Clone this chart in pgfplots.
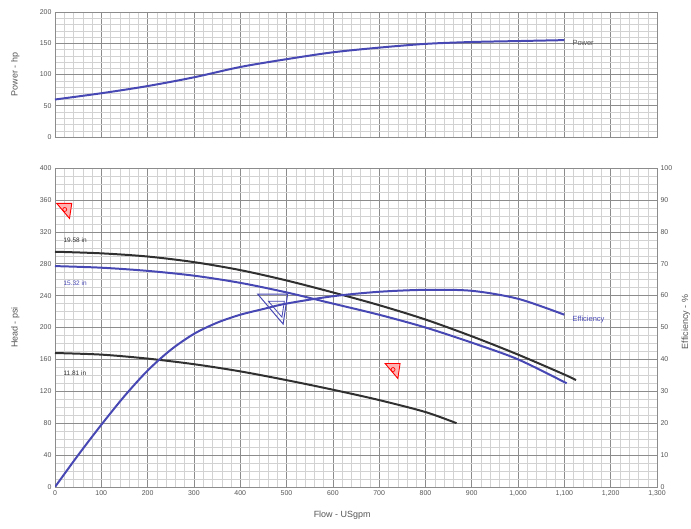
\documentclass[border=0pt]{standalone}
\usepackage{fontspec}
\setmainfont{Liberation Sans}
\usepackage{pgfplots}
\pgfplotsset{compat=1.18}

\definecolor{cblue}{HTML}{4848B4}
\definecolor{cblack}{HTML}{303030}
\definecolor{majgrid}{HTML}{8C8C8C}
\definecolor{mingrid}{HTML}{D2D2D2}
\definecolor{tickc}{HTML}{555555}

\pgfdeclareplotmark{dtri}{%
  \pgfpathmoveto{\pgfqpoint{-\pgfplotmarksize}{0.7\pgfplotmarksize}}%
  \pgfpathlineto{\pgfqpoint{\pgfplotmarksize}{0.7\pgfplotmarksize}}%
  \pgfpathlineto{\pgfqpoint{0.7\pgfplotmarksize}{-1.3\pgfplotmarksize}}%
  \pgfpathclose
  \pgfusepathqfillstroke}
\pgfdeclareplotmark{dtrio}{%
  \pgfpathmoveto{\pgfqpoint{-\pgfplotmarksize}{0.7\pgfplotmarksize}}%
  \pgfpathlineto{\pgfqpoint{\pgfplotmarksize}{0.7\pgfplotmarksize}}%
  \pgfpathlineto{\pgfqpoint{0.7\pgfplotmarksize}{-1.3\pgfplotmarksize}}%
  \pgfpathclose
  \pgfusepathqstroke}

\pgfplotsset{
  base/.style={
    scale only axis, width=602bp, xmin=0, xmax=1300,
    xtick={0,100,...,1300}, minor x tick num=4,
    grid=both,
    major grid style={majgrid, line width=0.6pt},
    minor grid style={mingrid, line width=0.35pt},
    axis line style={majgrid, line width=0.8pt},
    tick style={draw=none},
    ticklabel style={font=\fontsize{7}{8}\selectfont, text=tickc},
    label style={font=\fontsize{9}{10}\selectfont, text=tickc},
    /pgf/number format/assume math mode=true,
    /pgf/number format/1000 sep={,},
  }
}

\begin{document}
\begin{tikzpicture}
\useasboundingbox (-55bp,-42bp) rectangle (636bp,487bp);

% ---------- top: power ----------
\begin{axis}[base, at={(0,350bp)}, anchor=south west, height=125bp,
  ymin=0, ymax=200, ytick={0,50,...,200}, minor y tick num=4,
  xticklabels={},
  ylabel={Power - hp},
  ylabel style={at={(axis description cs:-0.066,0.5)}, anchor=center}]
\addplot[cblue, line width=2pt, smooth] coordinates {
 (0,60) (100,70) (200,81.5) (300,95.5) (400,112) (500,124.5) (600,135.5)
 (700,143) (800,149) (900,152) (1000,153.5) (1100,155)};
\node[anchor=west, font=\fontsize{7.5}{8}\selectfont, text=tickc] at (axis cs:1110,151) {Power};
\end{axis}

% ---------- bottom: head ----------
\begin{axis}[base, at={(0,0)}, anchor=south west, height=319bp,
  ymin=0, ymax=400, ytick={0,40,...,400}, minor y tick num=3,
  xlabel={Flow - USgpm}, ylabel={Head - psi},
  xlabel style={at={(axis description cs:0.477,-0.088)}, anchor=center},
  ylabel style={at={(axis description cs:-0.066,0.5)}, anchor=center}]
% 19.58 in
\addplot[cblack, line width=2pt, smooth] coordinates {
 (0,295) (100,293) (200,289) (300,282) (400,272) (500,259) (600,244)
 (700,228) (800,210) (900,189) (1000,166) (1100,141) (1125,134)};
% 15.32 in
\addplot[cblue, line width=2pt, smooth] coordinates {
 (0,277) (100,275) (200,271) (300,265) (400,256) (500,244) (600,230)
 (700,216) (800,200) (900,181) (1000,160) (1105,130)};
% 11.81 in
\addplot[cblack, line width=2pt, smooth] coordinates {
 (0,168) (100,166) (200,161) (300,154) (400,145) (500,134) (600,122)
 (700,109) (800,94) (867,80)};
% markers
\addplot[only marks, mark=dtri, mark size=7.5bp,
  mark options={fill=red!30, draw=red, line width=0.9pt}]
  coordinates {(20,349) (729,148.3)};
\addplot[only marks, mark=o, mark size=2bp, mark options={draw=red, line width=0.7pt}]
  coordinates {(21,348) (730,147.3)};
\addplot[only marks, mark=dtrio, mark size=15bp,
  mark options={draw=cblue, line width=1pt}]
  coordinates {(470,228.8)};
\addplot[only marks, mark=dtrio, mark size=8bp,
  mark options={draw=cblue, line width=0.8pt}]
  coordinates {(478,226)};
\node[anchor=west, font=\fontsize{6.5}{7}\selectfont, text=cblack] at (axis cs:11,309.7) {19.58 in};
\node[anchor=west, font=\fontsize{6.5}{7}\selectfont, text=cblue] at (axis cs:11,255.8) {15.32 in};
\node[anchor=west, font=\fontsize{6.5}{7}\selectfont, text=cblack] at (axis cs:11,143) {11.81 in};
\end{axis}

% ---------- bottom: efficiency (right axis) ----------
\begin{axis}[base, at={(0,0)}, anchor=south west, height=319bp,
  grid=none, axis x line=none, axis y line*=right,
  ymin=0, ymax=100, ytick={0,10,...,100},
  ylabel={Efficiency - \%},
  ylabel style={at={(axis description cs:1.048,0.517)}, anchor=center}]
\addplot[cblue, line width=2pt, smooth] coordinates {
 (0,0) (50,10) (100,19.5) (150,28.5) (200,36.5) (250,43) (300,48) (350,51.5)
 (400,54) (450,55.8) (500,57.5) (600,59.8) (700,61.2) (800,61.8) (900,61.5)
 (1000,59) (1100,54)};
\node[anchor=west, font=\fontsize{7.5}{8}\selectfont, text=cblue] at (axis cs:1110,52.5) {Efficiency};
\end{axis}
\end{tikzpicture}
\end{document}
